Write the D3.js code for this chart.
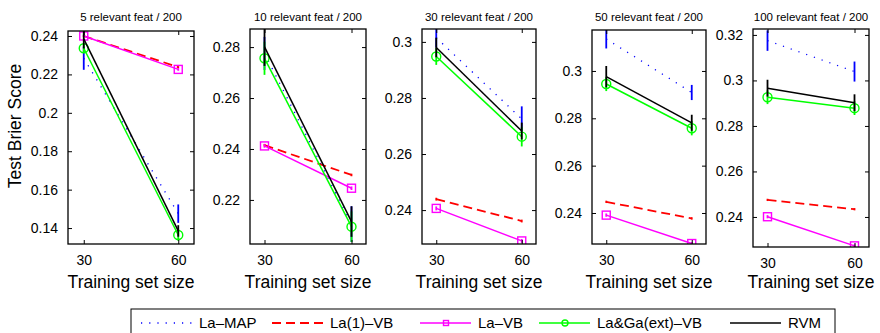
<!DOCTYPE html>
<html>
<head>
<meta charset="utf-8">
<script src="https://cdn.jsdelivr.net/npm/d3@7"></script>
<style>
body { margin: 0; background: #fff; }
svg { font-family: "Liberation Sans", Arial, Helvetica, sans-serif; }
</style>
</head>
<body>
<svg id="chart" width="880" height="333"></svg>
<script>
// training set sizes on the x axis
let sizes = [30, 60];
let titles = ["5 relevant feat / 200", "10 relevant feat / 200", "30 relevant feat / 200",
  "50 relevant feat / 200", "100 relevant feat / 200"];
let yTicks = [
  [0.14, 0.16, 0.18, 0.2, 0.22, 0.24],
  [0.22, 0.24, 0.26, 0.28],
  [0.24, 0.26, 0.28, 0.3],
  [0.24, 0.26, 0.28, 0.3],
  [0.24, 0.26, 0.28, 0.3, 0.32]
];
let yLimits = [[0.1317, 0.2426], [0.2027, 0.2871], [0.2279, 0.3046], [0.2269, 0.3173], [0.2268, 0.3226]];

// test Brier score per panel, [n=30, n=60], and error bar half widths
let laMap = [[0.2284, 0.1475], [0.2775, 0.2105], [0.3015, 0.2725], [0.3135, 0.2909], [0.3175, 0.3039]];
let laMapErr = [[0.006, 0.0048], [0.0065, 0.007], [0.0035, 0.0045], [0.004, 0.0032], [0.0045, 0.0044]];
let la1Vb = [[0.2400, 0.2238], [0.2415, 0.2298], [0.2439, 0.2361], [0.2447, 0.2377], [0.2475, 0.2434]];
let la1VbErr = [[0.0005, 0.0005], [0.0005, 0.0005], [0.0005, 0.0005], [0.0005, 0.0005], [0.0005, 0.0005]];
let laVb = [[0.2400, 0.2226], [0.2412, 0.2246], [0.2406, 0.2290], [0.2391, 0.2271], [0.2401, 0.2273]];
let laVbErr = [[0.0007, 0.0007], [0.0007, 0.0007], [0.0007, 0.0007], [0.0007, 0.0007], [0.0007, 0.0007]];
let laGa = [[0.2336, 0.1364], [0.2756, 0.2095], [0.2948, 0.2662], [0.2945, 0.2758], [0.2926, 0.2878]];
let laGaErr = [[0.0025, 0.003], [0.0065, 0.006], [0.003, 0.0035], [0.003, 0.003], [0.003, 0.003]];
let rvm = [[0.2385, 0.1385], [0.2801, 0.2115], [0.2980, 0.2682], [0.2976, 0.2781], [0.2966, 0.2902]];
let rvmErr = [[0.005, 0.003], [0.0075, 0.006], [0.0035, 0.003], [0.0045, 0.0034], [0.0037, 0.0037]];

let series = [
  {name: "La\u2013MAP", values: laMap, errs: laMapErr, color: "#0000ff", dash: "1.2,7", width: 1.3},
  {name: "La(1)\u2013VB", values: la1Vb, errs: la1VbErr, color: "#ff0000", dash: "9,5", width: 1.8},
  {name: "La\u2013VB", values: laVb, errs: laVbErr, color: "#ff00ff", marker: "square", width: 1.5},
  {name: "La&Ga(ext)\u2013VB", values: laGa, errs: laGaErr, color: "#00ff00", marker: "circle", width: 1.5},
  {name: "RVM", values: rvm, errs: rvmErr, color: "#000000", width: 1.5}
];

// axes boxes in pixels
let boxes = [
  {x0: 68, x1: 194, y0: 31, y1: 244},
  {x0: 250, x1: 366, y0: 29, y1: 244},
  {x0: 422, x1: 536, y0: 29, y1: 244},
  {x0: 592, x1: 706, y0: 30, y1: 244},
  {x0: 753, x1: 869, y0: 29, y1: 247}
];

let svg = d3.select("#chart");
let defs = svg.append("defs");

let drawMarker = function(sel, s, cx, cy, size) {
  if (s.marker === "square") {
    sel.append("rect")
      .attr("x", cx - size / 2).attr("y", cy - size / 2)
      .attr("width", size).attr("height", size)
      .attr("fill", "none").attr("stroke", s.color).attr("stroke-width", 1.4);
  } else if (s.marker === "circle") {
    sel.append("circle")
      .attr("cx", cx).attr("cy", cy).attr("r", size / 2 + 0.5)
      .attr("fill", "none").attr("stroke", s.color).attr("stroke-width", 1.4);
  }
};

boxes.forEach(function(b, i) {
  let x = d3.scaleLinear().domain([25, 65]).range([b.x0, b.x1]);
  let y = d3.scaleLinear().domain(yLimits[i]).range([b.y1, b.y0]);
  let g = svg.append("g");

  defs.append("clipPath").attr("id", "clip" + i)
    .append("rect")
    .attr("x", b.x0).attr("y", b.y0)
    .attr("width", b.x1 - b.x0).attr("height", b.y1 - b.y0);

  let plot = g.append("g").attr("clip-path", `url(#clip${i})`);

  series.forEach(function(s) {
    let pts = sizes.map((n, j) => ({n: n, v: s.values[i][j], e: s.errs[i][j]}));
    // vertical error bars
    plot.selectAll(null).data(pts).enter().append("line")
      .attr("x1", d => x(d.n)).attr("x2", d => x(d.n))
      .attr("y1", d => y(d.v - d.e)).attr("y2", d => y(d.v + d.e))
      .attr("stroke", s.color).attr("stroke-width", 1.8);
    plot.append("path").datum(pts)
      .attr("d", d3.line().x(d => x(d.n)).y(d => y(d.v)))
      .attr("fill", "none")
      .attr("stroke", s.color)
      .attr("stroke-width", s.width)
      .attr("stroke-dasharray", s.dash || null);
    pts.forEach(d => drawMarker(plot, s, x(d.n), y(d.v), 8));
  });

  // inward ticks on all four sides, matlab style
  let left = g.append("g").attr("transform", `translate(${b.x0},0)`)
    .call(d3.axisLeft(y).tickValues(yTicks[i]).tickSize(-4).tickSizeOuter(0)
      .tickPadding(10).tickFormat(d3.format("~g")));
  let right = g.append("g").attr("transform", `translate(${b.x1},0)`)
    .call(d3.axisRight(y).tickValues(yTicks[i]).tickSize(-4).tickSizeOuter(0).tickFormat(""));
  let bottom = g.append("g").attr("transform", `translate(0,${b.y1})`)
    .call(d3.axisBottom(x).tickValues(sizes).tickSize(-4).tickSizeOuter(0).tickPadding(11));
  let top = g.append("g").attr("transform", `translate(0,${b.y0})`)
    .call(d3.axisTop(x).tickValues(sizes).tickSize(-4).tickSizeOuter(0).tickFormat(""));
  [left, right, bottom, top].forEach(a => {
    a.select(".domain").remove();
    a.selectAll("line").attr("stroke", "#000");
    a.selectAll("text").attr("font-size", 14).attr("fill", "#000")
      .attr("font-family", "Liberation Sans, Arial, sans-serif");
  });

  g.append("rect")
    .attr("x", b.x0).attr("y", b.y0)
    .attr("width", b.x1 - b.x0).attr("height", b.y1 - b.y0)
    .attr("fill", "none").attr("stroke", "#000").attr("stroke-width", 1.3);

  g.append("text")
    .attr("x", (b.x0 + b.x1) / 2).attr("y", 21)
    .attr("text-anchor", "middle").attr("font-size", 11.5)
    .text(titles[i]);

  g.append("text")
    .attr("x", (b.x0 + b.x1) / 2).attr("y", 288)
    .attr("text-anchor", "middle").attr("font-size", 17.5)
    .text("Training set size");
});

svg.append("text")
  .attr("transform", "translate(21,126) rotate(-90)")
  .attr("text-anchor", "middle").attr("font-size", 17.5)
  .text("Test Brier Score");

// legend
let legendX = [199, 330, 478, 597, 788];
let legend = svg.append("g");
legend.append("rect")
  .attr("x", 131).attr("y", 309).attr("width", 704).attr("height", 40)
  .attr("fill", "#fff").attr("stroke", "#000").attr("stroke-width", 1);
series.forEach(function(s, k) {
  let tx = legendX[k];
  legend.append("line")
    .attr("x1", tx - 58).attr("x2", tx - 7).attr("y1", 323).attr("y2", 323)
    .attr("stroke", s.color).attr("stroke-width", s.width)
    .attr("stroke-dasharray", s.dash || null);
  drawMarker(legend, s, tx - 32, 323, 5);
  legend.append("text")
    .attr("x", tx).attr("y", 328).attr("font-size", 15)
    .text(s.name);
});
</script>
</body>
</html>
